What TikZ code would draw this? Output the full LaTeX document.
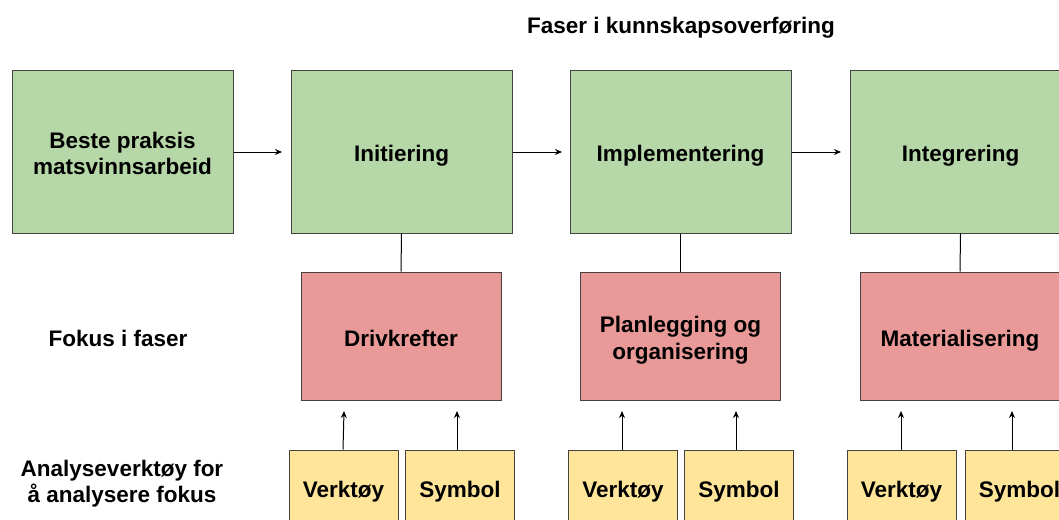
\documentclass[tikz,border=0pt]{standalone}
\usepackage{fontspec}
\setmainfont{Liberation Sans}
\usetikzlibrary{arrows.meta}
\definecolor{gfill}{HTML}{B6D7A8}
\definecolor{pfill}{HTML}{EA9999}
\definecolor{yfill}{HTML}{FFE599}
\definecolor{bord}{HTML}{434343}
\newcommand{\tstrut}{\rule[-5pt]{0pt}{30pt}}
\newcommand{\topstrut}{\rule{0pt}{25pt}}
\newcommand{\botstrut}{\rule[-5pt]{0pt}{5pt}}
\begin{document}
\begin{tikzpicture}[x=1pt,y=-1pt,
  txt/.style={font=\fontsize{22.5}{26.5}\selectfont\bfseries, align=center, text=black},
  box/.style={txt, draw=bord, line width=1pt, inner sep=0pt, anchor=center},
  gbox/.style={box, fill=gfill, minimum width=221pt, minimum height=163pt},
  pbox/.style={box, fill=pfill, minimum width=200pt, minimum height=128pt},
  ybox/.style={box, fill=yfill, minimum width=109pt, minimum height=74pt},
  conn/.style={line width=1pt, black},
  arr/.style={conn, -{Stealth[length=7pt,width=6pt]}}
]
\useasboundingbox (0,0) rectangle (1059,519);
\fill[white] (0,0) rectangle (1059,519);

\node[txt] (title) at (681,24) {\tstrut Faser i kunnskapsoverføring};

\node[gbox] (g1) at (122.5,151.5) {\topstrut Beste praksis\\matsvinnsarbeid\botstrut};
\node[gbox] (g2) at (401.5,151.5) {\tstrut Initiering};
\node[gbox] (g3) at (680.5,151.5) {\tstrut Implementering};
\node[gbox] (g4) at (960.5,151.5) {\tstrut Integrering};

\node[pbox] (p2) at (401,336) {\tstrut Drivkrefter};
\node[pbox] (p3) at (680.5,336) {\topstrut Planlegging og\\organisering\botstrut};
\node[pbox] (p4) at (960,336) {\tstrut Materialisering};

\node[txt] (fokus) at (118,336) {\tstrut Fokus i faser};
\node[txt] (analyse) at (122,479.5) {\topstrut Analyseverktøy for\\å analysere fokus\botstrut};

\node[ybox] (v2) at (343.5,487) {\tstrut Verktøy};
\node[ybox] (s2) at (460,487) {\tstrut Symbol};
\node[ybox] (v3) at (623,487) {\tstrut Verktøy};
\node[ybox] (s3) at (739,487) {\tstrut Symbol};
\node[ybox] (v4) at (901.5,487) {\tstrut Verktøy};
\node[ybox] (s4) at (1019.5,487) {\tstrut Symbol};

% horizontal arrows
\coordinate (a1) at (282,152);
\coordinate (a2) at (562,152);
\coordinate (a3) at (841,152);
\draw[arr] (g1.east |- a1) -- (a1);
\draw[arr] (g2.east |- a2) -- (a2);
\draw[arr] (g3.east |- a3) -- (a3);

% vertical links
\draw[conn] (g2.south) -- (p2.north);
\draw[conn] (g3.south) -- (p3.north);
\draw[conn] (g4.south) -- (p4.north);

% tool arrows
\coordinate (t2a) at (344,411);
\coordinate (t2b) at (457,411);
\coordinate (t3a) at (622,411);
\coordinate (t3b) at (736,411);
\coordinate (t4a) at (901,411);
\coordinate (t4b) at (1012,411);
\draw[arr] (v2.north -| 343,0) -- (t2a);
\draw[arr] (s2.north -| t2b) -- (t2b);
\draw[arr] (v3.north -| t3a) -- (t3a);
\draw[arr] (s3.north -| t3b) -- (t3b);
\draw[arr] (v4.north -| t4a) -- (t4a);
\draw[arr] (s4.north -| t4b) -- (t4b);
\end{tikzpicture}
\end{document}
